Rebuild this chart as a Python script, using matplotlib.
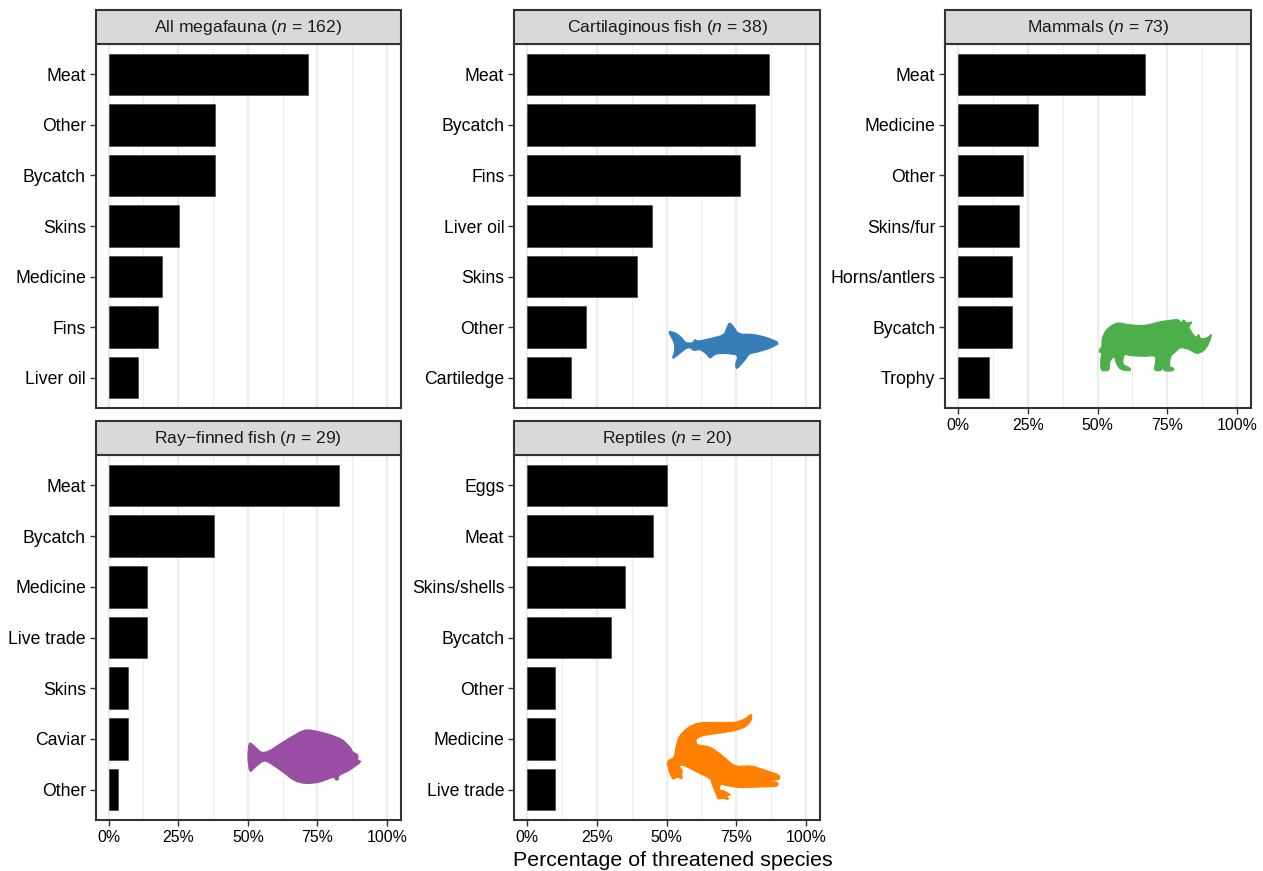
import matplotlib
matplotlib.use("Agg")
import matplotlib.pyplot as plt
from matplotlib.patches import Polygon, Rectangle
from matplotlib.transforms import Affine2D

plt.rcParams['font.family'] = ['Liberation Sans', 'DejaVu Sans']
plt.rcParams['mathtext.fontset'] = 'custom'
plt.rcParams['mathtext.rm'] = 'Liberation Sans'
plt.rcParams['mathtext.it'] = 'Liberation Sans:italic'

W, H = 1263, 871
DPI = 100

titles = ["All megafauna ($\\mathit{n}$ = 162)", "Cartilaginous fish ($\\mathit{n}$ = 38)",
          "Mammals ($\\mathit{n}$ = 73)", "Ray\u2212finned fish ($\\mathit{n}$ = 29)",
          "Reptiles ($\\mathit{n}$ = 20)"]

cats_all = ["Meat", "Other", "Bycatch", "Skins", "Medicine", "Fins", "Liver oil"]
vals_all = [71.6, 38.3, 38.3, 25.3, 19.1, 17.9, 10.5]
cats_cart = ["Meat", "Bycatch", "Fins", "Liver oil", "Skins", "Other", "Cartiledge"]
vals_cart = [86.8, 81.6, 76.3, 44.7, 39.5, 21.0, 15.8]
cats_mam = ["Meat", "Medicine", "Other", "Skins/fur", "Horns/antlers", "Bycatch", "Trophy"]
vals_mam = [67.1, 28.8, 23.3, 21.9, 19.2, 19.2, 11.0]
cats_ray = ["Meat", "Bycatch", "Medicine", "Live trade", "Skins", "Caviar", "Other"]
vals_ray = [82.8, 37.9, 13.8, 13.8, 6.9, 6.9, 3.4]
cats_rep = ["Eggs", "Meat", "Skins/shells", "Bycatch", "Other", "Medicine", "Live trade"]
vals_rep = [50, 45, 35, 30, 10, 10, 10]

major = [0, 25, 50, 75, 100]
minor = [12.5, 37.5, 62.5, 87.5]
major_labels = ["0%", "25%", "50%", "75%", "100%"]

# silhouettes: outline traced in zoomed-crop pixels (crop origin, 3x)
shark = [(54,63),(75,68),(92,80),(108,99),(128,99),(135,88),(143,94),(180,86),(222,75),(232,50),(238,38),(247,45),(265,72),(310,73),(350,82),(390,99),(360,115),(320,127),(298,131),(285,150),(260,178),(256,165),(265,135),(225,130),(195,132),(180,146),(170,132),(150,118),(130,122),(122,113),(108,115),(90,130),(66,148),(74,125),(74,100)]
rhino = [(58,135),(66,125),(66,100),(78,75),(100,58),(115,53),(150,60),(195,62),(240,50),(270,46),(295,43),(305,55),(310,43),(320,55),(338,50),(325,65),(340,90),(352,98),(355,86),(362,102),(380,100),(396,86),(387,115),(372,138),(350,147),(325,132),(300,127),(285,142),(272,152),(267,185),(282,190),(279,198),(252,198),(248,180),(245,197),(222,197),(228,165),(225,152),(190,154),(150,152),(132,147),(127,178),(152,190),(150,198),(122,194),(110,178),(103,152),(88,170),(88,197),(63,198),(62,165),(66,142),(58,142)]
flatfish = [(42,68),(52,72),(78,98),(100,95),(150,62),(205,30),(230,30),(280,42),(322,58),(347,83),(352,95),(370,105),(367,120),(380,125),(342,152),(310,167),(310,180),(301,180),(299,170),(250,188),(210,191),(178,183),(140,153),(100,126),(85,122),(60,142),(44,158),(38,110)]
croc = [(290,26),(290,45),(272,66),(240,77),(190,85),(140,92),(122,102),(125,120),(165,125),(200,150),(240,185),(290,182),(320,192),(374,210),(374,224),(330,228),(370,232),(367,245),(310,246),(255,248),(220,243),(196,237),(192,255),(208,258),(228,270),(214,272),(222,284),(205,280),(188,282),(183,265),(172,240),(168,222),(120,198),(85,180),(70,182),(82,195),(80,210),(82,222),(65,215),(55,225),(43,203),(36,168),(58,158),(62,130),(72,93),(100,66),(130,53),(190,52),(240,53),(270,42)]


def round_corners(pts, passes=1):
    """Chaikin corner cutting, to soften a traced outline."""
    for _ in range(passes):
        out = []
        for i, (ax_, ay_) in enumerate(pts):
            bx_, by_ = pts[(i + 1) % len(pts)]
            out.append((0.8 * ax_ + 0.2 * bx_, 0.8 * ay_ + 0.2 * by_))
            out.append((0.2 * ax_ + 0.8 * bx_, 0.2 * ay_ + 0.8 * by_))
        pts = out
    return pts


fig = plt.figure(figsize=(W / DPI, H / DPI), dpi=DPI, facecolor="white")
pix = Affine2D().scale(1 / DPI, -1 / DPI).translate(0, H / DPI) + fig.dpi_scale_trans

INK = "#333333"
panels = [
    (95.5, 401, 44, 408, 10, vals_all, cats_all, False, None, None, None),
    (514, 820, 44, 408, 10, vals_cart, cats_cart, False, shark, (650, 310), "#377eb8"),
    (945, 1251, 44, 408, 10, vals_mam, cats_mam, True, rhino, (1080, 305), "#4daf4a"),
    (95.5, 401, 455, 820, 421, vals_ray, cats_ray, True, flatfish, (235, 720), "#984ea3"),
    (514, 820, 455, 820, 421, vals_rep, cats_rep, True, croc, (655, 705), "#ff7f00"),
]

for title, (x0, x1, y0, y1, st, vals, cats, show_x, sil, org, col) in zip(titles, panels):
    ax = fig.add_axes([x0 / W, 1 - y1 / H, (x1 - x0) / W, (y1 - y0) / H])
    ypos = list(range(len(cats)))
    ax.set_axisbelow(True)
    for m in minor:
        ax.axvline(m, color="#eeeeee", lw=0.8, zorder=0)
    for m in major:
        ax.axvline(m, color="#ececec", lw=1.6, zorder=0)
    ax.barh(ypos, vals, height=0.82, color="black", edgecolor="#333333", linewidth=0.4, zorder=2)
    ax.set_xlim(-4.7, 105.0)
    ax.set_ylim(len(cats) - 0.4, -0.6)
    ax.set_yticks(ypos, cats)
    ax.set_xticks(major, major_labels if show_x else [])
    ax.tick_params(axis="y", length=4, width=1, color=INK, labelsize=12.7, labelcolor="black", pad=3)
    if show_x:
        ax.tick_params(axis="x", length=4, width=1, color=INK, labelsize=11.4, labelcolor="black", pad=3)
    else:
        ax.tick_params(axis="x", length=0)
    for s in ax.spines.values():
        s.set_color(INK)
        s.set_linewidth(1.5)
    # facet strip
    strip = Rectangle((x0, st), x1 - x0, y0 - st, transform=pix, clip_on=False,
                      facecolor="#d9d9d9", edgecolor=INK, linewidth=1.5, zorder=3)
    ax.add_patch(strip)
    ax.text((x0 + x1) / 2, (st + y0) / 2 + 0.5, title, transform=pix, ha="center", va="center",
            fontsize=12.6, color="#1a1a1a", zorder=4, clip_on=False)
    if sil is not None:
        pts = round_corners([(org[0] + a / 3, org[1] + b / 3) for a, b in sil])
        ax.add_patch(Polygon(pts, closed=True, transform=pix, facecolor=col, edgecolor=col,
                             linewidth=0.8, joinstyle="round", zorder=1.5, clip_on=False))

fig.text(672.5 / W, 1 - 860.5 / H, "Percentage of threatened species", ha="center", va="center",
         fontsize=15.4, color="black")
fig.savefig("out.png", dpi=DPI)
